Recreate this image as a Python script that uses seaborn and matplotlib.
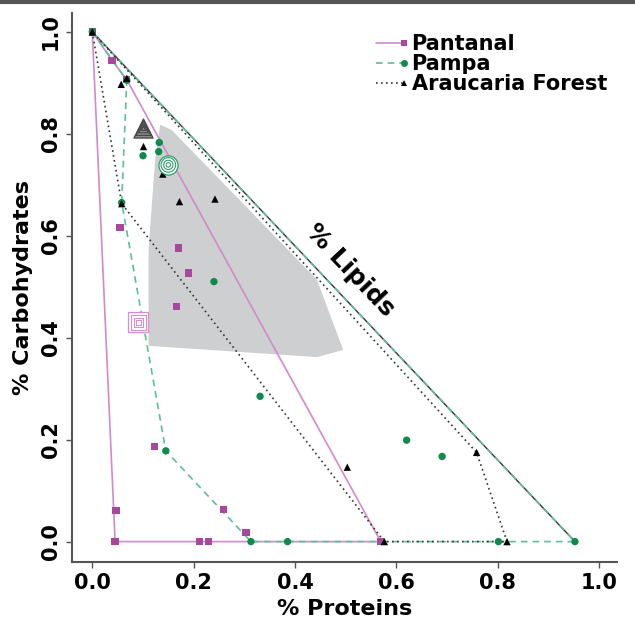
import matplotlib
matplotlib.use("Agg")
import matplotlib.pyplot as plt
from matplotlib.lines import Line2D
import pandas as pd
import seaborn as sns

# proportions (x = proteins, y = carbohydrates)
pantanal_x = [0.0, 0.039, 0.068, 0.055, 0.170, 0.190, 0.166, 0.123, 0.047,
              0.045, 0.211, 0.229, 0.259, 0.303, 0.569]
pantanal_y = [1.0, 0.944, 0.906, 0.616, 0.576, 0.527, 0.461, 0.187, 0.061,
              0.0, 0.0, 0.0, 0.063, 0.018, 0.0]
pantanal_hull_x = [0.0, 0.045, 0.569, 0.068, 0.039, 0.0]
pantanal_hull_y = [1.0, 0.0, 0.0, 0.906, 0.944, 1.0]

pampa_x = [0.0, 0.068, 0.058, 0.132, 0.131, 0.100, 0.240, 0.331, 0.145,
           0.313, 0.385, 0.620, 0.690, 0.801, 0.952]
pampa_y = [1.0, 0.905, 0.665, 0.783, 0.765, 0.757, 0.510, 0.285, 0.178,
           0.0, 0.0, 0.199, 0.167, 0.0, 0.0]
pampa_hull_x = [0.0, 0.068, 0.058, 0.145, 0.313, 0.952, 0.0]
pampa_hull_y = [1.0, 0.905, 0.665, 0.178, 0.0, 0.0, 1.0]

arau_x = [0.0, 0.057, 0.068, 0.101, 0.139, 0.172, 0.242, 0.058, 0.503,
          0.758, 0.576, 0.818]
arau_y = [1.0, 0.897, 0.909, 0.775, 0.721, 0.667, 0.672, 0.663, 0.146,
          0.175, 0.0, 0.0]
arau_hull_x = [0.0, 0.058, 0.576, 0.818, 0.758, 0.0]
arau_hull_y = [1.0, 0.663, 0.0, 0.0, 0.175, 1.0]

# mean of each region (concentric markers)
mean_x = [0.091, 0.150, 0.101]
mean_y = [0.430, 0.739, 0.811]

# shaded reference region
region_x = [0.134, 0.156, 0.443, 0.495, 0.443, 0.111, 0.111, 0.124]
region_y = [0.818, 0.808, 0.514, 0.376, 0.362, 0.384, 0.573, 0.749]

lipid_x = [0.0, 0.952]
lipid_y = [1.0, 0.0]

names = ["Pantanal", "Pampa", "Araucaria Forest"]
mk_colors = ["#A8479B", "#0E8A4C", "#000000"]
ln_colors = ["#D18ACA", "#5CBF95", "#333333"]
ln_styles = ["-", (0, (4, 3)), (0, (1, 2))]
markers = ["s", "o", "^"]

sns.set_style("ticks")
plt.rcParams['font.family'] = ['DejaVu Sans']
plt.rcParams['text.color'] = 'black'
plt.rcParams['axes.labelcolor'] = 'black'

fig, ax = plt.subplots(figsize=(6.35, 6.19), dpi=100)
fig.subplots_adjust(left=0.1134, right=0.9717, bottom=0.0921, top=0.979)

ax.fill(region_x, region_y, color="#CDCFD0", lw=0, zorder=0)
ax.plot(lipid_x, lipid_y, color="#333333", lw=1.0, zorder=1)

hulls = [(pantanal_hull_x, pantanal_hull_y), (pampa_hull_x, pampa_hull_y),
         (arau_hull_x, arau_hull_y)]
for (hx, hy), c, ls in zip(hulls, ln_colors, ln_styles):
    ax.plot(hx, hy, color=c, ls=ls, lw=1.2, zorder=2)

pts = pd.concat([
    pd.DataFrame({"x": pantanal_x, "y": pantanal_y, "site": names[0]}),
    pd.DataFrame({"x": pampa_x, "y": pampa_y, "site": names[1]}),
    pd.DataFrame({"x": arau_x, "y": arau_y, "site": names[2]}),
])
sns.scatterplot(data=pts, x="x", y="y", hue="site", style="site",
                palette=dict(zip(names, mk_colors)),
                markers=dict(zip(names, markers)),
                s=28, linewidth=0, legend=False, zorder=3, ax=ax)

# concentric mean markers
ring_face = ["white", "white", "#8C8C8C"]
ring_edge = ["#D98FCF", "#2E9E6A", "#444444"]
for i in range(3):
    ax.scatter(mean_x[i], mean_y[i], s=190, marker=markers[i],
               facecolor=ring_face[i], edgecolor=ring_edge[i], lw=0.9, zorder=4)
    for s in [110, 45, 10]:
        ax.scatter(mean_x[i], mean_y[i], s=s, marker=markers[i],
                   facecolor="none", edgecolor=ring_edge[i], lw=0.8, zorder=5)

ax.text(0.508, 0.533, "% Lipids", rotation=-46.5, ha="center", va="center",
        rotation_mode="anchor", fontsize=18, fontweight="bold")

ax.set_xlim(-0.04, 1.035)
ax.set_ylim(-0.04, 1.037)
ax.set_xticks([0.0, 0.2, 0.4, 0.6, 0.8, 1.0])
ax.set_yticks([0.0, 0.2, 0.4, 0.6, 0.8, 1.0])
ax.set_xticklabels(["0.0", "0.2", "0.4", "0.6", "0.8", "1.0"],
                   fontsize=15, fontweight="bold")
ax.set_yticklabels(["0.0", "0.2", "0.4", "0.6", "0.8", "1.0"],
                   fontsize=15, fontweight="bold", rotation=90, va="center")
ax.tick_params(length=4, width=1, color="#555555", labelcolor="black", pad=4)
ax.set_xlabel("% Proteins", fontsize=16, fontweight="bold", labelpad=4)
ax.set_ylabel("% Carbohydrates", fontsize=16, fontweight="bold", labelpad=6)
sns.despine(ax=ax)
for side in ["left", "bottom"]:
    ax.spines[side].set_color("#555555")
    ax.spines[side].set_linewidth(1.5)

handles = [Line2D([], [], color=ln_colors[i], ls=ln_styles[i], lw=1.2,
                  marker=markers[i], markersize=5, markerfacecolor=mk_colors[i],
                  markeredgewidth=0) for i in range(3)]
leg = ax.legend(handles, names, loc="upper left", bbox_to_anchor=(0.558, 0.962),
                frameon=False, handlelength=1.35, handletextpad=0.35,
                labelspacing=0.0, borderpad=0, borderaxespad=0,
                prop={"weight": "bold", "size": 15})
for h in leg.legend_handles:
    h.set_markevery([2])

fig.add_artist(Line2D([0, 1], [0.997, 0.997], transform=fig.transFigure,
                      color="#555555", lw=3))

fig.savefig("out.png", dpi=100)
